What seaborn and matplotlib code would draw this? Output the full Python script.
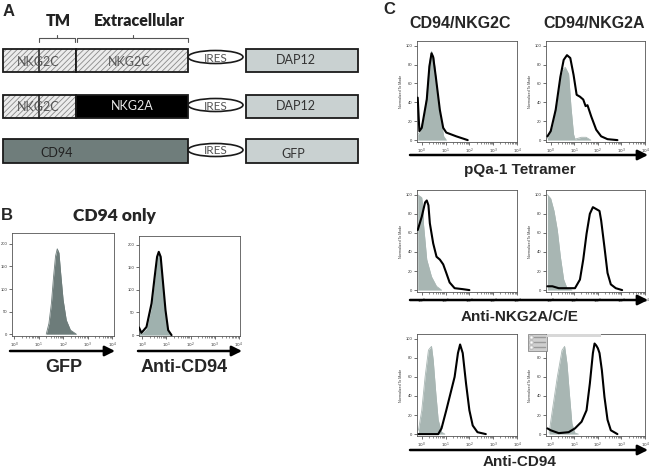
import matplotlib
matplotlib.use("Agg")
import matplotlib.pyplot as plt
from matplotlib.patches import Rectangle, Ellipse, FancyArrowPatch
import numpy as np
import seaborn as sns

sns.set_style("ticks")
plt.rcParams['font.family'] = ['Liberation Sans', 'DejaVu Sans']
plt.rcParams['hatch.linewidth'] = 0.6

# ---------------- data (x in log10 units of fluorescence, y = counts / % of max) -------------
# Panel B: CD94 only
b_gfp_x = [1.30, 1.41, 1.51, 1.60, 1.68, 1.75, 1.82, 1.89, 1.99, 2.12, 2.29, 2.53]
b_gfp_y = [0, 24, 68, 128, 173, 189, 180, 135, 76, 31, 9, 0]
b_cd94_x = [-0.14, -0.04, 0.17, 0.38, 0.51, 0.61, 0.68, 0.76, 0.86, 0.96, 1.07, 1.21]
b_cd94_line_y = [17, 5, 18, 70, 129, 173, 184, 173, 114, 55, 11, 0]
b_cd94_fill_y = [8, 3, 14, 62, 122, 168, 180, 168, 108, 48, 7, 0]

# Panel C, row 1: pQa-1 tetramer
c_tet_nkg2c_line_x = [-0.17, -0.10, 0.00, 0.21, 0.32, 0.41, 0.48, 0.59, 0.76, 0.90, 1.03, 1.45, 1.93]
c_tet_nkg2c_line_y = [45, 9.5, 13, 43, 78, 92, 88, 67, 32, 13, 8, 4, 0]
c_tet_nkg2c_fill_x = [-0.17, -0.10, 0.07, 0.21, 0.32, 0.41, 0.51, 0.62, 0.76, 0.92, 1.03]
c_tet_nkg2c_fill_y = [6, 8, 22, 46, 81, 94, 87, 60, 29, 4, 0]
c_tet_nkg2a_line_x = [-0.14, 0.00, 0.21, 0.41, 0.55, 0.69, 0.83, 0.97, 1.10, 1.24, 1.38, 1.48, 1.56, 1.72, 1.93, 2.14, 2.41, 2.83]
c_tet_nkg2a_line_y = [4, 9.5, 32, 67, 85, 90, 87, 69, 48, 46, 43, 36, 37, 25, 11, 4, 1, 0]
c_tet_nkg2a_fill_x = [-0.14, 0.07, 0.28, 0.41, 0.51, 0.62, 0.76, 0.86, 0.97, 1.03, 1.30, 1.50, 1.70]
c_tet_nkg2a_fill_y = [2, 15, 43, 67, 75, 77, 70, 35, 6, 1, 3, 3, 0]

# Panel C, row 2: anti-NKG2A/C/E
c_nkg_nkg2c_line_x = [-0.17, 0.00, 0.14, 0.21, 0.28, 0.34, 0.48, 0.62, 0.76, 0.90, 1.03, 1.17, 1.38, 1.72, 2.00]
c_nkg_nkg2c_line_y = [63, 77, 92, 94, 89, 70, 49, 35, 32, 27, 18, 8, 2, 1, 0]
c_nkg_nkg2c_fill_x = [-0.17, 0.00, 0.05, 0.07, 0.21, 0.41, 0.62, 0.83]
c_nkg_nkg2c_fill_y = [100, 97, 85, 70, 32, 14, 4, 0]
c_nkg_nkg2a_line_x = [-0.14, 0.07, 0.34, 0.76, 1.03, 1.24, 1.38, 1.52, 1.66, 1.79, 1.93, 2.07, 2.14, 2.28, 2.41, 2.55, 2.76, 3.03]
c_nkg_nkg2a_line_y = [4, 4, 2, 2, 2, 11, 32, 59, 80, 87, 85, 83, 73, 45, 18, 6, 2, 0]
c_nkg_nkg2a_fill_x = [-0.14, 0.00, 0.14, 0.28, 0.41, 0.55, 0.69, 0.90]
c_nkg_nkg2a_fill_y = [100, 96, 83, 63, 35, 11, 2, 0]

# Panel C, row 3: anti-CD94
c_cd94_nkg2c_line_x = [-0.14, 0.69, 0.83, 1.03, 1.17, 1.38, 1.52, 1.61, 1.72, 1.86, 2.00, 2.14, 2.34, 2.69]
c_cd94_nkg2c_line_y = [0, 0, 6, 25, 39, 60, 85, 94, 85, 53, 25, 9, 2, 0]
c_cd94_nkg2c_fill_x = [-0.14, 0.00, 0.14, 0.28, 0.34, 0.41, 0.48, 0.59, 0.69, 0.83, 0.97]
c_cd94_nkg2c_fill_y = [4, 25, 60, 88, 90, 92, 78, 43, 15, 2, 0]
c_cd94_nkg2a_line_x = [-0.14, 0.00, 0.34, 0.76, 1.03, 1.31, 1.52, 1.66, 1.79, 1.86, 1.93, 2.00, 2.07, 2.17, 2.28, 2.41, 2.55, 2.83]
c_cd94_nkg2a_line_y = [6, 4, 1, 2, 6, 13, 25, 53, 85, 95, 93, 90, 85, 67, 39, 15, 4, 0]
c_cd94_nkg2a_fill_x = [-0.07, 0.07, 0.28, 0.48, 0.59, 0.69, 0.79, 0.90, 1.03, 1.17]
c_cd94_nkg2a_fill_y = [1, 25, 60, 88, 92, 74, 43, 11, 1, 0]

# Tick labels
decade_labels = [r'$10^0$', r'$10^1$', r'$10^2$', r'$10^3$', r'$10^4$']
c_yticks = [0, 20, 40, 60, 80, 100]
b_yticks = [0, 50, 100, 150, 200]

# Panel A construct labels
row_titles = ['NKG2C', 'NKG2A', 'CD94']

W, H = 650, 468
fig = plt.figure(figsize=(6.5, 4.68), dpi=100)

DARK = '#6d7c7a'
LIGHT = '#a8b6b3'
LIGHTB = '#9fb1ae'


def ax_px(l, t, r, b):
    return fig.add_axes([l / W, 1 - b / H, (r - l) / W, (b - t) / H])


def style_hist(ax, xlim, ylim, yticks, ylabel=True):
    ax.set_xlim(*xlim)
    ax.set_ylim(*ylim)
    ax.set_xticks(range(5))
    ax.set_xticklabels(decade_labels)
    minors = [k + np.log10(m) for k in range(4) for m in range(2, 10)]
    ax.set_xticks(minors, minor=True)
    ax.set_yticks(yticks)
    ax.set_yticklabels([str(v) for v in yticks])
    ax.tick_params(axis='both', which='major', length=2.2, width=0.5, labelsize=3, pad=1, colors='#333333')
    ax.tick_params(axis='x', which='minor', length=1.2, width=0.4, colors='#333333')
    for s in ax.spines.values():
        s.set_visible(True)
        s.set_linewidth(0.6)
        s.set_color('#555555')
    if ylabel:
        ax.set_ylabel('Normalized To Mode', fontsize=2.6, labelpad=2, color='#333333')
    else:
        ax.set_ylabel('')
    ax.set_xlabel('')


def hist(ax, fx, fy, lx=None, ly=None, fcolor=LIGHT):
    ax.fill_between(fx, fy, 0, color=fcolor, lw=0, zorder=1)
    sns.lineplot(x=fx, y=fy, ax=ax, color=fcolor, lw=0.6, estimator=None, zorder=2)
    if lx is not None:
        sns.lineplot(x=lx, y=ly, ax=ax, color='black', lw=1.5, estimator=None, zorder=3)


# ---------------- Panel B ----------------
ax = ax_px(12, 233, 114, 336)
hist(ax, b_gfp_x, b_gfp_y, fcolor=DARK)
style_hist(ax, (-0.1, 4.07), (-4, 224), b_yticks, ylabel=False)

ax = ax_px(139, 236, 240, 336)
hist(ax, b_cd94_x, b_cd94_fill_y, b_cd94_x, b_cd94_line_y, fcolor=LIGHTB)
style_hist(ax, (-0.14, 4.05), (-2, 219), b_yticks, ylabel=False)

# ---------------- Panel C ----------------
cols = [(417, 517), (546, 645)]
rows = [(41, 142), (190, 292), (334, 436)]
data = [
    [(c_tet_nkg2c_fill_x, c_tet_nkg2c_fill_y, c_tet_nkg2c_line_x, c_tet_nkg2c_line_y),
     (c_tet_nkg2a_fill_x, c_tet_nkg2a_fill_y, c_tet_nkg2a_line_x, c_tet_nkg2a_line_y)],
    [(c_nkg_nkg2c_fill_x, c_nkg_nkg2c_fill_y, c_nkg_nkg2c_line_x, c_nkg_nkg2c_line_y),
     (c_nkg_nkg2a_fill_x, c_nkg_nkg2a_fill_y, c_nkg_nkg2a_line_x, c_nkg_nkg2a_line_y)],
    [(c_cd94_nkg2c_fill_x, c_cd94_nkg2c_fill_y, c_cd94_nkg2c_line_x, c_cd94_nkg2c_line_y),
     (c_cd94_nkg2a_fill_x, c_cd94_nkg2a_fill_y, c_cd94_nkg2a_line_x, c_cd94_nkg2a_line_y)],
]
for ri, (t, b) in enumerate(rows):
    for ci, (l, r) in enumerate(cols):
        ax = ax_px(l, t, r, b)
        fx, fy, lx, ly = data[ri][ci]
        hist(ax, fx, fy, lx, ly)
        style_hist(ax, (-0.2, 4.0), (-2, 105), c_yticks)

# ---------------- overlay for diagram, labels, arrows ----------------
ov = fig.add_axes([0, 0, 1, 1], zorder=10)
ov.set_xlim(0, W)
ov.set_ylim(H, 0)
ov.axis('off')
ov.patch.set_alpha(0)

BOLD = dict(fontweight='bold', family=['Liberation Sans', 'DejaVu Sans'])
CAL = ['Lato', 'DejaVu Sans']

# panel letters
ov.text(3, 11, 'A', fontsize=12, ha='left', va='center', **BOLD)
ov.text(1, 216, 'B', fontsize=12, ha='left', va='center', **BOLD)
ov.text(383, 9, 'C', fontsize=12, ha='left', va='center', **BOLD)

# Panel A header
ov.text(58, 21, 'TM', fontsize=11.5, fontweight='heavy', family=CAL, ha='center', va='center', color='#222222')
ov.text(139, 21, 'Extracellular', fontsize=11.5, fontweight='heavy', family=CAL, ha='center', va='center', color='#222222')


def bracket(x0, x1, y=42, h=4):
    xm = (x0 + x1) / 2
    ov.plot([x0, x0, x1, x1], [y, y - h, y - h, y], color='#555555', lw=0.8)
    ov.plot([xm, xm], [y - h, y - h - 3], color='#555555', lw=0.8)


bracket(39, 75)
bracket(77, 188)


def box(x0, x1, y0, y1, fc, hatch=None, ec='#1a1a1a'):
    if hatch:
        ov.add_patch(Rectangle((x0, y0), x1 - x0, y1 - y0, facecolor=fc, edgecolor='#8a8a8a', hatch=hatch, lw=0))
        ov.add_patch(Rectangle((x0, y0), x1 - x0, y1 - y0, facecolor='none', edgecolor=ec, lw=1.3))
    else:
        ov.add_patch(Rectangle((x0, y0), x1 - x0, y1 - y0, facecolor=fc, edgecolor=ec, lw=1.3))


def ires(yc):
    ov.add_patch(Ellipse((215.5, yc), 55, 13, facecolor='white', edgecolor='#1a1a1a', lw=1.2))
    ov.text(215.5, yc + 1, 'IRES', fontsize=8.5, family=CAL, ha='center', va='center', color='#555555')


HATCHFC = '#ececec'
DAPC = '#c9d1d1'
# row 1
y0, y1 = 49, 72
box(3, 76, y0, y1, HATCHFC, hatch='//////')
ov.plot([39, 39], [y0, y1], color='#1a1a1a', lw=1.1)
box(76, 188, y0, y1, HATCHFC, hatch='//////')
ov.text(38, 62, 'NKG2C', fontsize=9, family=CAL, ha='center', va='center', color='#555555')
ov.text(129, 62, 'NKG2C', fontsize=9, family=CAL, ha='center', va='center', color='#555555')
ires(57)
box(246, 358, y0, y1, DAPC)
ov.text(296, 60, 'DAP12', fontsize=9, family=CAL, ha='center', va='center', color='#333333')
# row 2
y0, y1 = 95, 118
box(3, 76, y0, y1, HATCHFC, hatch='//////')
ov.plot([39, 39], [y0, y1], color='#1a1a1a', lw=1.1)
box(76, 188, y0, y1, '#000000')
ov.text(38, 107, 'NKG2C', fontsize=9, family=CAL, ha='center', va='center', color='#555555')
ov.text(132, 106, row_titles[1], fontsize=9, family=CAL, ha='center', va='center', color='#e8e8e8')
ires(105)
box(246, 358, y0, y1, DAPC)
ov.text(296, 106, 'DAP12', fontsize=9, family=CAL, ha='center', va='center', color='#333333')
# row 3
y0, y1 = 139, 163
box(3, 188, y0, y1, '#6f7d7b')
ov.text(57, 153, row_titles[2], fontsize=9, family=CAL, ha='center', va='center', color='#222222')
ires(150)
box(246, 358, y0, y1, DAPC)
ov.text(293, 154, 'GFP', fontsize=9, family=CAL, ha='center', va='center', color='#333333')

# Panel B titles and arrows
ov.text(114, 216, 'CD94 only', fontsize=12.5, fontweight='heavy', family=CAL, ha='center', va='center')


def arrow(x0, x1, y, lw=1.8):
    ov.add_patch(FancyArrowPatch((x0, y), (x1, y), arrowstyle='-|>,head_length=6,head_width=3',
                                 mutation_scale=1, color='black', lw=lw, shrinkA=0, shrinkB=0))


arrow(10, 115, 351)
arrow(138, 242, 351)
ov.text(64, 368, 'GFP', fontsize=13, ha='center', va='center', **BOLD)
ov.text(184, 368, 'Anti-CD94', fontsize=13, ha='center', va='center', **BOLD)

# Panel C titles, arrows, labels
ov.text(460, 23, 'CD94/NKG2C', fontsize=11.5, ha='center', va='center', **BOLD)
ov.text(594, 23, 'CD94/NKG2A', fontsize=11.5, ha='center', va='center', **BOLD)
arrow(410, 648, 155)
arrow(410, 648, 300)
arrow(410, 648, 450)
ov.text(520, 170, 'pQa-1 Tetramer', fontsize=11, ha='center', va='center', **BOLD)
ov.text(520, 317, 'Anti-NKG2A/C/E', fontsize=11, ha='center', va='center', **BOLD)
ov.text(520, 462, 'Anti-CD94', fontsize=11, ha='center', va='center', **BOLD)

# FlowJo legend remnant on last plot
ov.add_patch(Rectangle((528, 334), 19, 17, facecolor='#cfcfcf', edgecolor='#777777', lw=0.5))
ov.add_patch(Rectangle((547, 333.5), 54, 3.5, facecolor='#d8d8d8', edgecolor='none'))
for i in range(3):
    ov.add_patch(Rectangle((529.5, 335.5 + i * 5), 3, 3, facecolor='white', edgecolor='#888888', lw=0.3))
    ov.plot([534, 545], [337 + i * 5, 337 + i * 5], color='#9a9a9a', lw=1.0)

fig.savefig('out.png', dpi=100)
